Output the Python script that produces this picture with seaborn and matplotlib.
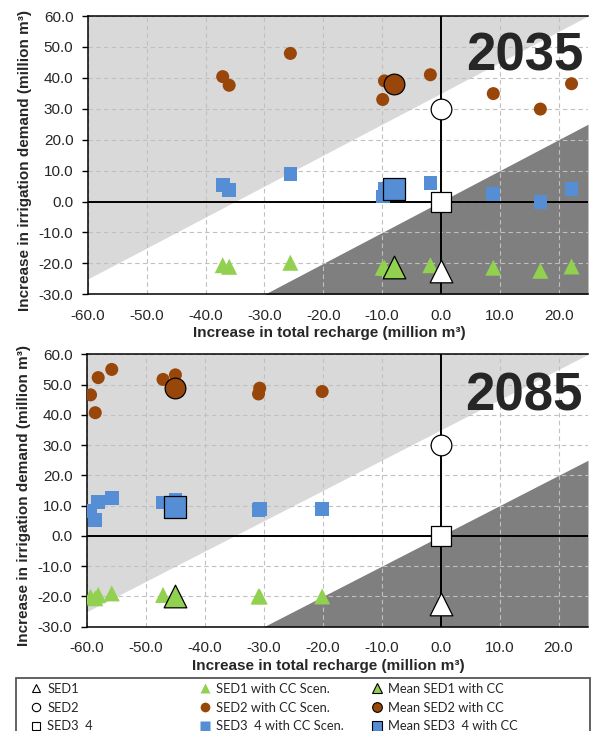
import numpy as np
import pandas as pd
import matplotlib
matplotlib.use("Agg")
import matplotlib.pyplot as plt
from matplotlib.lines import Line2D
from matplotlib.patches import Rectangle
import seaborn as sns

# values (million m3)
# 2035: one x (recharge change) per climate scenario, shared by the three SEDs
x_2035 = [-37.1, -36.0, -25.6, -9.9, -9.6, -1.8, 8.9, 16.9, 22.2]
sed1_2035 = [-20.6, -21.1, -19.8, -21.4, -21.4, -20.6, -21.4, -22.4, -21.0]
sed2_2035 = [40.4, 37.6, 47.9, 33.0, 39.0, 41.0, 34.9, 29.9, 38.1]
sed34_2035 = [5.3, 3.7, 9.0, 1.6, 4.2, 5.9, 2.4, -0.2, 4.0]
mean_x_2035 = -8.0
mean_y_2035 = [-21.1, 38.0, 4.0]      # SED1, SED2, SED3 4

# 2085
x_2085 = [-59.4, -58.6, -58.1, -55.8, -47.1, -45.0, -30.7, -30.9, -20.1]
sed1_2085 = [-20.1, -20.6, -19.5, -19.0, -19.5, -20.0, -20.0, -20.0, -20.0]
sed2_2085 = [46.6, 40.7, 52.3, 55.0, 51.7, 53.2, 48.8, 46.9, 47.7]
sed34_2085 = [8.3, 5.2, 11.3, 12.6, 11.0, 11.9, 8.9, 8.5, 8.9]
mean_x_2085 = -45.1
mean_y_2085 = [-19.8, 48.8, 9.5]

# no climate change reference points
base_x = 0.0
base_y = [-22.5, 30.0, 0.0]

labels_col1 = ["SED1", "SED2", "SED3  4"]
labels_col2 = ["SED1 with CC Scen.", "SED2 with CC Scen.", "SED3  4 with CC Scen."]
labels_col3 = ["Mean SED1 with CC", "Mean SED2 with CC", "Mean SED3  4 with CC"]

green = "#92D050"
brown = "#99460A"
blue = "#558ED5"

sns.set_style("white")
plt.rcParams['font.family'] = ['Liberation Sans', 'DejaVu Sans']

fig = plt.figure(figsize=(5.92, 7.31), dpi=100)
ax1 = fig.add_axes([88/592, 1-294.3/731, 500/592, 278.3/731])
ax2 = fig.add_axes([87/592, 1-626.7/731, 501/592, 272.4/731])


def panel(ax, xs, s1, s2, s3, mx, my, year, ytxt, xlab_y):
    # shaded zones
    xl = np.array([-60.0, 25.0])
    ax.fill_between(xl, xl + 35, 60, color="#D9D9D9", lw=0, zorder=0.1)
    xd = np.array([-30.0, 25.0])
    ax.fill_between(xd, -30, xd, color="#7F7F7F", lw=0, zorder=0.1)

    ax.set_xlim(-60, 25)
    ax.set_ylim(-30, 60)
    ax.set_xticks(np.arange(-60, 21, 10))
    ax.set_yticks(np.arange(-30, 61, 10))
    ax.xaxis.set_major_formatter(matplotlib.ticker.FormatStrFormatter('%.1f'))
    ax.yaxis.set_major_formatter(matplotlib.ticker.FormatStrFormatter('%.1f'))
    ax.grid(True, ls=(0, (4, 3)), color="#C0C0C0", lw=0.8, zorder=0.5)
    ax.set_axisbelow(True)
    ax.axhline(0, color="black", lw=1.4, zorder=1.5)
    ax.axvline(0, color="black", lw=1.4, zorder=1.5)

    for sp in ["left", "bottom", "top"]:
        ax.spines[sp].set_color("black")
        ax.spines[sp].set_linewidth(1.1)
    ax.spines["right"].set_visible(False)
    ax.tick_params(axis='y', direction='out', length=4.5, width=1, color='black',
                   pad=6, labelsize=11, left=True)
    ax.tick_params(axis='x', length=0, pad=10.5, labelsize=11)

    # climate change scenarios
    sns.scatterplot(x=xs, y=s1, ax=ax, marker="^", s=133, color=green,
                    edgecolor="none", linewidth=0, zorder=3, legend=False)
    sns.scatterplot(x=xs, y=s2, ax=ax, marker="o", s=88, color=brown,
                    edgecolor="none", linewidth=0, zorder=3, legend=False)
    sns.scatterplot(x=xs, y=s3, ax=ax, marker="s", s=97, color=blue,
                    edgecolor="none", linewidth=0, zorder=3, legend=False)
    # means
    for yv, mk, c, sz in zip(my, ["^", "o", "s"], [green, brown, blue], [266, 222, 244]):
        sns.scatterplot(x=[mx], y=[yv], ax=ax, marker=mk, s=sz, color=c,
                        edgecolor="black", linewidth=0.9, zorder=4, legend=False)
    # without CC
    for yv, mk, sz in zip(base_y, ["^", "o", "s"], [266, 222, 228]):
        sns.scatterplot(x=[base_x], y=[yv], ax=ax, marker=mk, s=sz, color="white",
                        edgecolor="black", linewidth=0.9, zorder=4, legend=False)

    ax.text(0.99, ytxt, year, transform=ax.transAxes, ha="right", va="top",
            fontsize=38, fontweight="bold", zorder=5)
    ax.set_xlabel("Increase in total recharge (million m³)", fontsize=11, fontweight="bold")
    ax.set_ylabel("Increase in irrigation demand (million m³)", fontsize=11, fontweight="bold")
    ax.xaxis.set_label_coords(0.482, xlab_y)
    ax.yaxis.set_label_coords(-0.112, 0.48)


panel(ax1, x_2035, sed1_2035, sed2_2035, sed34_2035, mean_x_2035, mean_y_2035, "2035", 0.945, -0.114)
panel(ax2, x_2085, sed1_2085, sed2_2085, sed34_2085, mean_x_2085, mean_y_2085, "2085", 0.937, -0.119)

# legend box
fig.patches.append(Rectangle((16/592, -0.01), 574/592, 0.0721 + 0.01, transform=fig.transFigure,
                             fill=False, edgecolor="#555555", lw=1.3))


def handle(mk, face, edge, ms):
    return Line2D([], [], ls="none", marker=mk, markersize=ms, markerfacecolor=face,
                  markeredgecolor=edge, markeredgewidth=0.8)


cols = [
    ([handle("^", "white", "black", 6), handle("o", "white", "black", 6),
      handle("s", "white", "black", 6)], labels_col1, 30),
    ([handle("^", green, "none", 7), handle("o", brown, "none", 7),
      handle("s", blue, "none", 7)], labels_col2, 199),
    ([handle("^", green, "black", 7), handle("o", brown, "black", 7),
      handle("s", blue, "black", 7)], labels_col3, 371),
]
for hs, labs, xpx in cols:
    fig.legend(handles=hs, labels=labs, loc="upper left",
               bbox_to_anchor=(xpx/592, 1 - 683/731), frameon=False,
               borderpad=0, borderaxespad=0, handlelength=1.0, handletextpad=0.35,
               labelspacing=0.52, prop={"family": ["Lato", "DejaVu Sans"], "size": 9.3})

fig.savefig("out.png", dpi=100)
